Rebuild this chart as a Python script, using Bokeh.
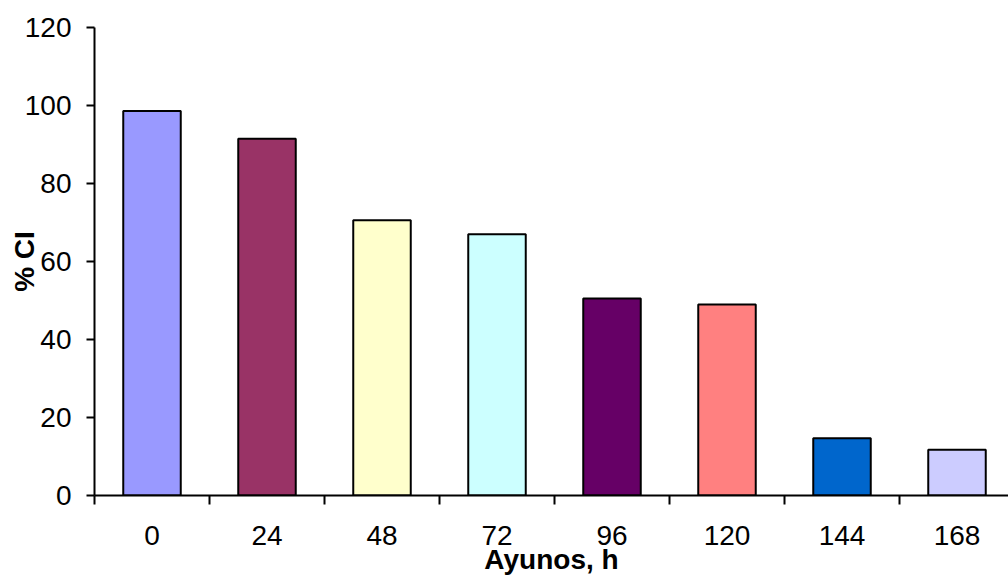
from bokeh.plotting import figure
from bokeh.models import FixedTicker, Range1d, ColumnDataSource
from bokeh.embed import file_html
from bokeh.resources import INLINE

# Fasting time (hours) and % CI per group
hours = ["0", "24", "48", "72", "96", "120", "144", "168"]
ci_pct = [98.6, 91.5, 70.6, 67.0, 50.5, 49.0, 14.7, 11.7]
bar_colors = ["#9999FF", "#993366", "#FFFFCC", "#CCFFFF",
              "#660066", "#FF8080", "#0066CC", "#CCCCFF"]
y_ticks = [0, 20, 40, 60, 80, 100, 120]

FONT = "Liberation Sans"
FSIZE = "28px"

pos = list(range(len(hours)))
src = ColumnDataSource(dict(x=pos, top=ci_pct, color=bar_colors))

p = figure(width=1008, height=577, output_backend="svg", toolbar_location=None,
           x_range=Range1d(-0.5, -0.5 + 914 / 115.0), y_range=Range1d(0, 120),
           min_border_left=94, min_border_right=0, min_border_top=27,
           min_border_bottom=82)
p.outline_line_color = None
p.xgrid.grid_line_color = None
p.ygrid.grid_line_color = None
p.background_fill_color = "white"
p.border_fill_color = "white"

p.vbar(x="x", top="top", bottom=0, width=0.5, fill_color="color",
       line_color="black", line_width=2, source=src)

# x axis: labels at category centers, tick marks between categories
p.xaxis.ticker = FixedTicker(ticks=pos, minor_ticks=[i - 0.5 for i in range(len(hours))])
p.xaxis.major_label_overrides = {i: h for i, h in enumerate(hours)}
p.xaxis.major_tick_line_color = None
p.xaxis.major_tick_out = 0
p.xaxis.major_tick_in = 0
p.xaxis.minor_tick_out = 9
p.xaxis.minor_tick_in = 0
p.xaxis.minor_tick_line_color = "black"
p.xaxis.minor_tick_line_width = 2
p.xaxis.major_label_standoff = 21
p.xaxis.axis_label = "Ayunos, h"
p.xaxis.axis_label_standoff = -4

# y axis
p.yaxis.ticker = FixedTicker(ticks=y_ticks)
p.yaxis.minor_tick_line_color = None
p.yaxis.major_tick_out = 8
p.yaxis.major_tick_in = 0
p.yaxis.major_tick_line_color = "black"
p.yaxis.major_tick_line_width = 2
p.yaxis.major_label_standoff = 15
p.yaxis.axis_label = "% CI"
p.yaxis.axis_label_standoff = -18

for ax in (p.xaxis, p.yaxis):
    ax.axis_line_color = "black"
    ax.axis_line_width = 2
    ax.major_label_text_font = FONT
    ax.major_label_text_font_size = FSIZE
    ax.major_label_text_color = "black"
    ax.axis_label_text_font = FONT
    ax.axis_label_text_font_size = FSIZE
    ax.axis_label_text_font_style = "bold"
    ax.axis_label_text_color = "black"

open("out.html", "w").write(file_html(p, INLINE))
